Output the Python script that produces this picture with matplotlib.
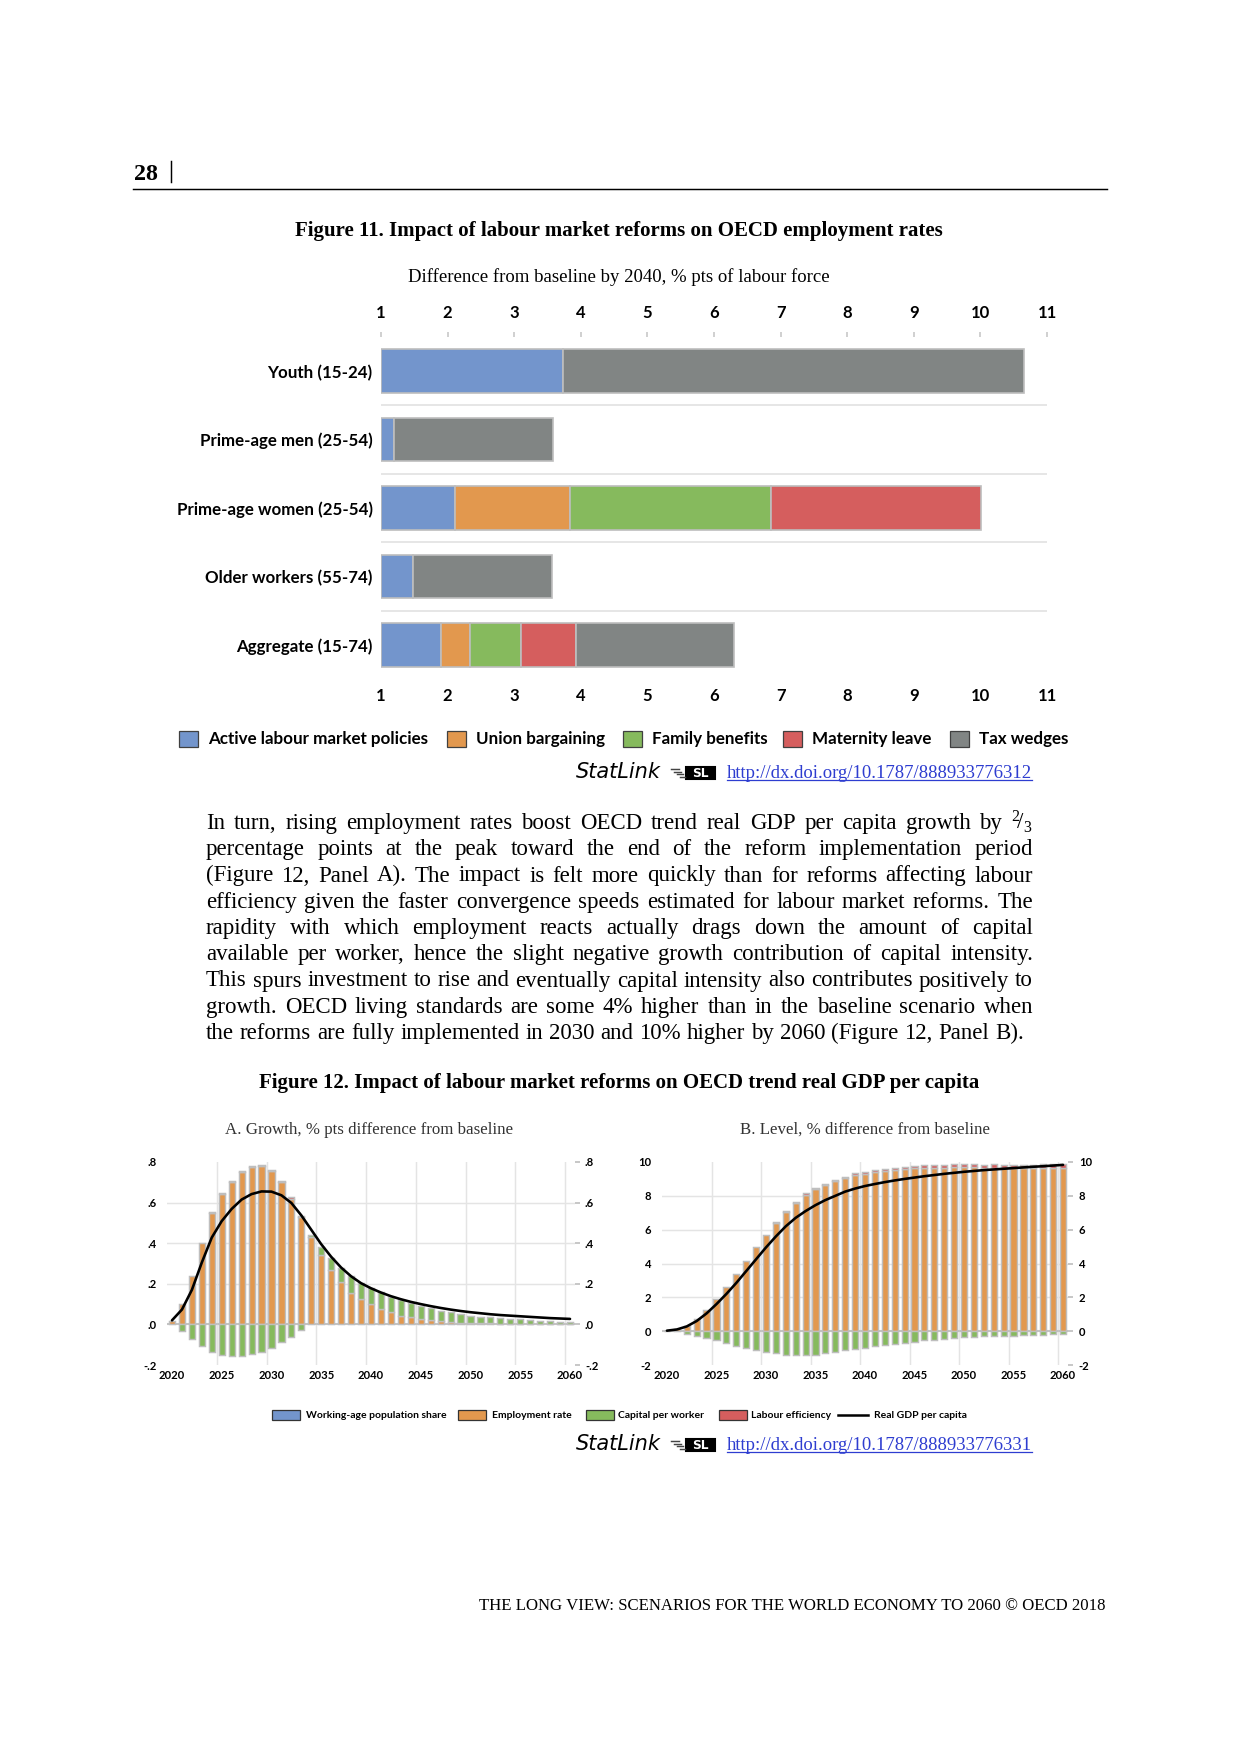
import matplotlib
matplotlib.use('Agg')
import matplotlib.pyplot as plt
from matplotlib.patches import Rectangle
import numpy as np

plt.rcParams['mathtext.fontset'] = 'custom'
plt.rcParams['mathtext.rm'] = 'Liberation Serif'
plt.rcParams['mathtext.it'] = 'Liberation Serif:italic'
plt.rcParams['mathtext.bf'] = 'Liberation Serif:bold'

SANS = ['Lato', 'DejaVu Sans']
SERIF = ['Liberation Serif', 'DejaVu Serif']

BLUE = '#7395CC'
ORANGE = '#E2984E'
GREEN = '#86BA5D'
RED = '#D55E5E'
GREY = '#818584'
EDGE = '#BEBEBE'

# ---- Figure 11 data (difference from baseline by 2040, % pts) ----
groups = ['Youth (15-24)', 'Prime-age men (25-54)', 'Prime-age women (25-54)',
          'Older workers (55-74)', 'Aggregate (15-74)']
policies = ['Active labour market policies', 'Union bargaining', 'Family benefits',
            'Maternity leave', 'Tax wedges']
almp = [2.73, 0.19, 1.11, 0.48, 0.90]
union = [0.00, 0.00, 1.73, 0.00, 0.43]
family = [0.00, 0.00, 3.01, 0.00, 0.77]
maternity = [0.00, 0.00, 3.16, 0.00, 0.83]
tax = [6.92, 2.40, 0.00, 2.09, 2.37]
axis_start = 1
xticks11 = [1, 2, 3, 4, 5, 6, 7, 8, 9, 10, 11]

# ---- Figure 12 data ----
years = list(range(2020, 2061))
components = ['Working-age population share', 'Employment rate', 'Capital per worker',
              'Labour efficiency', 'Real GDP per capita']

# Panel A: growth, % pts difference from baseline
emp_a = [0.016, 0.10, 0.24, 0.40, 0.55, 0.64, 0.70, 0.75, 0.775, 0.78,
         0.757, 0.70, 0.62, 0.53, 0.43, 0.34, 0.267, 0.207, 0.156, 0.123,
         0.099, 0.074, 0.059, 0.043, 0.035, 0.025, 0.02, 0.016, 0.012, 0.008,
         0.008, 0.005, 0.005, 0.004, 0.004, 0.004, 0.003, 0.003, 0.002, 0.002, 0.001]
cap_a = [0.0, -0.032, -0.07, -0.107, -0.138, -0.15, -0.156, -0.155, -0.146, -0.135,
         -0.118, -0.088, -0.06, -0.028, 0.01, 0.04, 0.06, 0.073, 0.084, 0.079,
         0.079, 0.084, 0.078, 0.077, 0.072, 0.064, 0.06, 0.051, 0.047, 0.045,
         0.035, 0.033, 0.03, 0.026, 0.022, 0.021, 0.018, 0.015, 0.014, 0.011, 0.011]
eff_a = [0, 0, 0, 0, 0.006, 0.006, 0.006, 0.006, 0.006, 0.006,
         0.006, 0.006, 0.006, 0.004, 0, 0, 0, 0, 0, 0,
         0, 0, 0, 0, 0, 0, 0, 0, 0, 0,
         0, 0, 0, 0, 0, 0, 0, 0, 0, 0, 0]
gdp_a = [0.02, 0.073, 0.17, 0.305, 0.428, 0.509, 0.569, 0.615, 0.642, 0.655,
         0.654, 0.636, 0.598, 0.537, 0.466, 0.395, 0.333, 0.28, 0.237, 0.203,
         0.178, 0.157, 0.139, 0.124, 0.111, 0.1, 0.09, 0.081, 0.073, 0.066,
         0.06, 0.055, 0.05, 0.046, 0.043, 0.04, 0.037, 0.034, 0.031, 0.029, 0.027]
yt_a = [-0.2, 0.0, 0.2, 0.4, 0.6, 0.8]
yl_a = ['-.2', '.0', '.2', '.4', '.6', '.8']

# Panel B: level, % difference from baseline
emp_b = [0.03, 0.1, 0.3, 0.73, 1.26, 1.91, 2.62, 3.39, 4.17, 4.96,
         5.71, 6.40, 7.07, 7.58, 8.07, 8.41, 8.64, 8.88, 9.06, 9.21,
         9.29, 9.39, 9.49, 9.51, 9.59, 9.63, 9.65, 9.67, 9.67, 9.68,
         9.68, 9.68, 9.66, 9.66, 9.66, 9.64, 9.64, 9.64, 9.66, 9.66, 9.66]
cap_b = [0.0, 0.0, -0.14, -0.26, -0.39, -0.55, -0.69, -0.85, -1.0, -1.12,
         -1.24, -1.30, -1.38, -1.40, -1.40, -1.38, -1.32, -1.24, -1.14, -1.06,
         -1.0, -0.9, -0.83, -0.77, -0.67, -0.65, -0.55, -0.53, -0.47, -0.43,
         -0.37, -0.37, -0.31, -0.28, -0.26, -0.26, -0.22, -0.2, -0.2, -0.18, -0.16]
eff_b = [0, 0, 0, 0, 0, 0, 0, 0, 0, 0,
         0, 0.03, 0.06, 0.05, 0.08, 0.07, 0.08, 0.08, 0.08, 0.12,
         0.1, 0.12, 0.1, 0.15, 0.13, 0.16, 0.15, 0.16, 0.18, 0.2,
         0.2, 0.18, 0.18, 0.2, 0.18, 0.2, 0.18, 0.18, 0.2, 0.2, 0.22]
gdp_b = [0.03, 0.1, 0.28, 0.6, 1.05, 1.6, 2.2, 2.85, 3.55, 4.25,
         4.95, 5.6, 6.2, 6.7, 7.1, 7.45, 7.75, 8.0, 8.25, 8.43,
         8.58, 8.7, 8.81, 8.91, 9.0, 9.08, 9.16, 9.23, 9.3, 9.36,
         9.42, 9.47, 9.52, 9.56, 9.6, 9.64, 9.68, 9.72, 9.75, 9.79, 9.83]
yt_b = [-2, 0, 2, 4, 6, 8, 10]
yl_b = ['-2', '0', '2', '4', '6', '8', '10']

paragraph = [
    "In turn, rising employment rates boost OECD trend real GDP per capita growth by $^{2}\\!/_{3}$",
    "percentage points at the peak toward the end of the reform implementation period",
    "(Figure 12, Panel A). The impact is felt more quickly than for reforms affecting labour",
    "efficiency given the faster convergence speeds estimated for labour market reforms. The",
    "rapidity with which employment reacts actually drags down the amount of capital",
    "available per worker, hence the slight negative growth contribution of capital intensity.",
    "This spurs investment to rise and eventually capital intensity also contributes positively to",
    "growth. OECD living standards are some 4% higher than in the baseline scenario when",
    "the reforms are fully implemented in 2030 and 10% higher by 2060 (Figure 12, Panel B).",
]

W, H = 1240, 1754
fig = plt.figure(figsize=(W / 150, H / 150), dpi=150)
page = fig.add_axes([0, 0, 1, 1], zorder=0)
page.set_xlim(0, W)
page.set_ylim(H, 0)
page.axis('off')


def box(l, t, r, b):
    return [l / W, 1 - b / H, (r - l) / W, (b - t) / H]


# header
page.text(134, 180, '28', family=SERIF, fontweight='bold', fontsize=11.5, va='baseline')
page.plot([171, 171], [161, 182], color='black', lw=0.7)
page.plot([133, 1107], [189, 189], color='black', lw=0.7)

# ---------------- Figure 11 ----------------
page.text(619, 236, 'Figure 11. Impact of labour market reforms on OECD employment rates',
          family=SERIF, fontweight='bold', fontsize=10.0, ha='center', va='baseline')
page.text(619, 282, 'Difference from baseline by 2040, % pts of labour force',
          family=SERIF, fontsize=9.0, ha='center', va='baseline')

ax = fig.add_axes(box(381, 337, 1047, 679))
series11 = [almp, union, family, maternity, tax]
cols11 = [BLUE, ORANGE, GREEN, RED, GREY]
ypos = np.arange(len(groups))
left = np.full(len(groups), float(axis_start))
for vals, c in zip(series11, cols11):
    v = np.array(vals)
    m = v > 0
    ax.barh(ypos[m], v[m], left=left[m], height=0.64, color=c, edgecolor=EDGE,
            linewidth=0.8, zorder=3)
    left = left + v
for k in range(len(groups) - 1):
    ax.axhline(k + 0.5, color='#E2E2E2', lw=0.8, zorder=1)
ax.set_xlim(1, 11)
ax.set_ylim(len(groups) - 0.5, -0.5)
ax.set_yticks(ypos)
ax.set_yticklabels(groups, family=SANS, fontweight='bold', fontsize=8.1)
ax.set_xticks(xticks11)
ax.set_xticklabels([str(t) for t in xticks11], family=SANS, fontweight='bold', fontsize=8.0)
ax.tick_params(axis='y', length=0, pad=4)
ax.tick_params(axis='x', bottom=False, length=0, pad=4.2)
top = ax.secondary_xaxis('top')
top.set_xticks(xticks11)
top.set_xticklabels([str(t) for t in xticks11], family=SANS, fontweight='bold', fontsize=8.0)
top.tick_params(axis='x', length=2.4, color='#C8C8C8', pad=5.5)
top.spines['top'].set_visible(False)
for s in ax.spines.values():
    s.set_visible(False)

# legend figure 11
lx = [179, 447, 623, 783, 950]
for x0, c, name in zip(lx, cols11, policies):
    page.add_patch(Rectangle((x0, 731), 19, 16, facecolor=c, edgecolor='#404040', lw=0.6))
    page.text(x0 + 29, 744, name, family=SANS, fontweight='bold', fontsize=8.2, va='baseline')


def statlink(y, url):
    page.text(576, y + 5, 'StatLink', family='DejaVu Sans', style='italic', fontsize=10.0,
              va='baseline')
    for i in range(4):
        page.plot([671 + i * 3, 679 + i * 2], [y - 4 + i * 2.5, y - 4 + i * 2.5],
                  color='#444444', lw=0.7)
    page.add_patch(Rectangle((686, y - 6), 29, 12, facecolor='black', edgecolor='black'))
    page.text(700.5, y + 0.5, 'SL', color='white', fontweight='bold', fontsize=5.8,
              family='DejaVu Sans', ha='center', va='center')
    t = page.text(727, y + 5, url, family=SERIF, color='#2E3DD0', fontsize=9.0, va='baseline')
    return t


t1 = statlink(773, 'http://dx.doi.org/10.1787/888933776312')

# ---------------- paragraph ----------------
renderer = fig.canvas.get_renderer()


def underline(t, y):
    bb = t.get_window_extent(renderer)
    page.plot([bb.x0, bb.x1], [y, y], color='#2E3DD0', lw=0.6)


underline(t1, 780)

x_left, x_right = 206, 1033
base0, dy = 829, 26.25
for i, line in enumerate(paragraph):
    words = line.split(' ')
    yb = base0 + i * dy
    ts = [page.text(0, yb, w, family=SERIF, fontsize=11.0, va='baseline') for w in words]
    ws = [t.get_window_extent(renderer).width for t in ts]
    if i == len(paragraph) - 1:
        gap = 5.9
    else:
        gap = (x_right - x_left - sum(ws)) / (len(ws) - 1)
    x = x_left
    for t, w in zip(ts, ws):
        t.set_x(x)
        x += w + gap

# ---------------- Figure 12 ----------------
page.text(619, 1088, 'Figure 12. Impact of labour market reforms on OECD trend real GDP per capita',
          family=SERIF, fontweight='bold', fontsize=10.05, ha='center', va='baseline')
page.text(369, 1134, 'A. Growth, % pts difference from baseline', family=SERIF,
          fontsize=8.1, color='#333333', ha='center', va='baseline')
page.text(865, 1134, 'B. Level, % difference from baseline', family=SERIF,
          fontsize=8.1, color='#333333', ha='center', va='baseline')


def panel(ax, emp, cap, eff, gdp, yt, yl, lpad):
    x = np.array(years)
    pos = np.zeros(len(x))
    neg = np.zeros(len(x))
    for vals, c in [(emp, ORANGE), (cap, GREEN), (eff, RED)]:
        v = np.array(vals, dtype=float)
        p = np.where(v > 0, v, 0.0)
        n = np.where(v < 0, v, 0.0)
        mp = p > 0
        mn = n < 0
        ax.bar(x[mp], p[mp], bottom=pos[mp], width=0.62, color=c, edgecolor=EDGE,
               linewidth=0.7, zorder=3)
        ax.bar(x[mn], n[mn], bottom=neg[mn], width=0.62, color=c, edgecolor=EDGE,
               linewidth=0.7, zorder=3)
        pos += p
        neg += n
    ax.plot(x, gdp, color='black', lw=1.25, zorder=5, solid_capstyle='round')
    for yr in years:
        if yr % 5 == 0 and yr > years[0]:
            ax.axvline(yr - 0.5, color='#E4E4E4', lw=0.7, zorder=1)
    for t in yt[1:-1]:
        ax.axhline(t, color='#E4E4E4' if t != 0 else '#C4C4C4', lw=0.7 if t != 0 else 1.0,
                   zorder=1 if t != 0 else 2)
    ax.set_xlim(years[0] - 0.5, years[-1] + 0.5)
    ax.set_ylim(yt[0], yt[-1])
    ax.set_yticks(yt)
    ax.set_yticklabels(yl, family=SANS, fontweight='bold', fontsize=5.4)
    xt = [yr for yr in years if yr % 5 == 0]
    ax.set_xticks(xt)
    ax.set_xticklabels([str(v) for v in xt], family=SANS, fontweight='bold', fontsize=5.4)
    ax.tick_params(axis='x', length=0, pad=2.5)
    ax.tick_params(axis='y', left=False, right=True, labelleft=True, labelright=True,
                   length=2.6, color='#BDBDBD', pad=lpad)
    for s in ax.spines.values():
        s.set_visible(False)


axa = fig.add_axes(box(167, 1162, 575, 1365))
panel(axa, emp_a, cap_a, eff_a, gdp_a, yt_a, yl_a, 2.2)
axb = fig.add_axes(box(662, 1162, 1068, 1365))
panel(axb, emp_b, cap_b, eff_b, gdp_b, yt_b, yl_b, 2.6)

# legend figure 12
lx12 = [272, 458, 586, 719]
tx12 = [306, 492, 618, 751]
for x0, tx, c, name in zip(lx12, tx12, [BLUE, ORANGE, GREEN, RED], components[:4]):
    page.add_patch(Rectangle((x0, 1410), 28, 10, facecolor=c, edgecolor='#333333', lw=0.6))
    page.text(tx, 1418, name, family=SANS, fontweight='bold', fontsize=5.0, va='baseline')
page.plot([838, 868], [1415, 1415], color='black', lw=1.2)
page.text(874, 1418, components[4], family=SANS, fontweight='bold', fontsize=5.0, va='baseline')

t2 = statlink(1445, 'http://dx.doi.org/10.1787/888933776331')
underline(t2, 1452)

# footer
page.text(1105, 1610, 'THE LONG VIEW: SCENARIOS FOR THE WORLD ECONOMY TO 2060 \u00a9 OECD 2018',
          family=SERIF, fontsize=8.05, ha='right', va='baseline')

fig.savefig('out.png', dpi=150)
